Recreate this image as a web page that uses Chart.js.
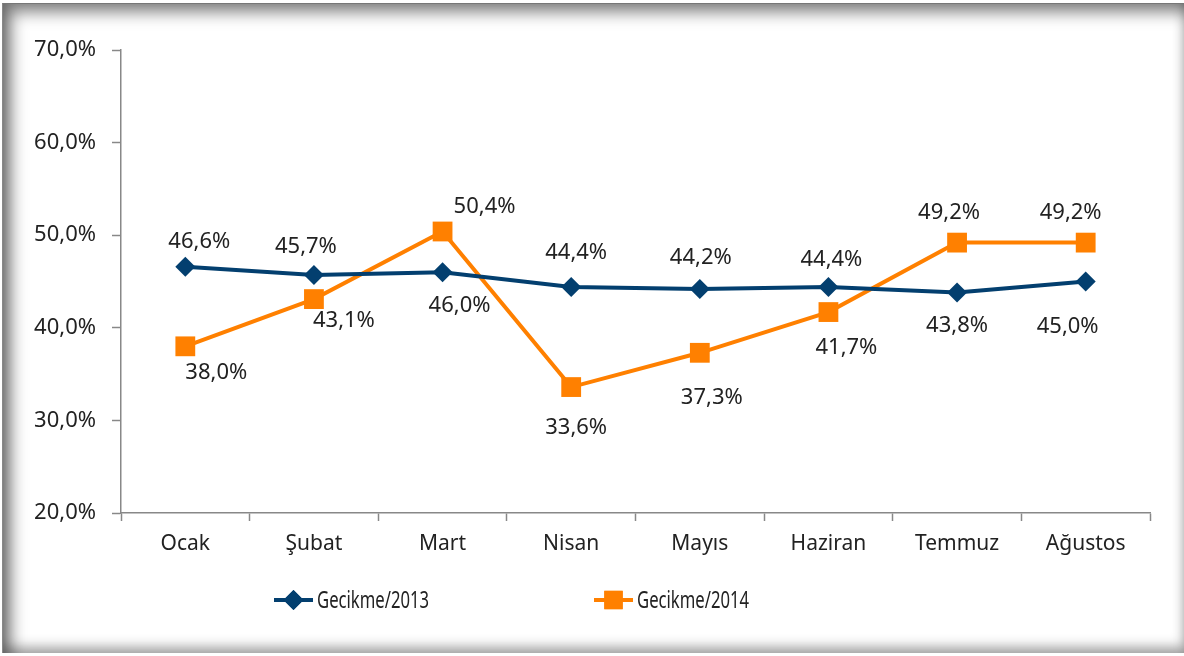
<!DOCTYPE html>
<html>
<head>
<meta charset="utf-8">
<script src="https://cdn.jsdelivr.net/npm/chart.js@4"></script>
<style>
  html, body { margin: 0; padding: 0; background: #fff; }
  #frame {
    position: absolute; left: 2px; top: 3px; width: 1182px; height: 650px;
    box-shadow: inset 8px 8px 16px rgba(0,0,0,0.5), inset 0 -7px 12px rgba(0,0,0,0.3);
    border-top: 1px solid #777; border-left: 1px solid #888; box-sizing: border-box;
  }
  #wrap { position: absolute; left: 0; top: 0; width: 1184px; height: 656px; }
</style>
</head>
<body>
<div id="frame"></div>
<div id="wrap"><canvas id="chart" width="1184" height="656"></canvas></div>
<script>
const months = ['Ocak', 'Şubat', 'Mart', 'Nisan', 'Mayıs', 'Haziran', 'Temmuz', 'Ağustos']
const gecikme2013 = [46.6, 45.7, 46.0, 44.4, 44.2, 44.4, 43.8, 45.0]
const gecikme2014 = [38.0, 43.1, 50.4, 33.6, 37.3, 41.7, 49.2, 49.2]
const yTicks = [20, 30, 40, 50, 60, 70]

const NAVY = '#033F6F'
const ORANGE = '#FF8000'
const FONT = '"Noto Sans", sans-serif'

const fmt = (v) => v.toFixed(1).replace('.', ',') + '%'

// label offsets from each point (px)
const labelOffsets = [
  [[14, -25], [-8, -28], [17, 33], [5, -34], [1, -31], [3, -27], [0, 33], [-18, 45]],
  [[31, 26], [30, 22], [42, -25], [5, 41], [12, 45], [18, 36], [-8, -30], [-15, -30]],
]

const valueLabels = {
  id: 'valueLabels',
  afterDatasetsDraw(chart) {
    const ctx = chart.ctx
    ctx.save()
    ctx.font = '22px ' + FONT
    ctx.fillStyle = '#222'
    ctx.textAlign = 'center'
    ctx.textBaseline = 'middle'
    chart.data.datasets.forEach((ds, i) => {
      chart.getDatasetMeta(i).data.forEach((pt, j) => {
        const off = labelOffsets[i][j]
        ctx.fillText(fmt(ds.data[j]), pt.x + off[0], pt.y + off[1])
      })
    })
    ctx.restore()
  },
}

const lineLegend = {
  id: 'lineLegend',
  afterDraw(chart) {
    const ctx = chart.ctx
    const items = [
      { x: 274, color: NAVY, style: 'rectRot', r: 10 },
      { x: 594, color: ORANGE, style: 'rect', r: 13 },
    ]
    const y = 600
    ctx.save()
    items.forEach((it, i) => {
      ctx.strokeStyle = it.color
      ctx.lineWidth = 4
      ctx.beginPath()
      ctx.moveTo(it.x, y)
      ctx.lineTo(it.x + 39, y)
      ctx.stroke()
      ctx.fillStyle = it.color
      Chart.helpers.drawPoint(ctx, { pointStyle: it.style, radius: it.r, borderWidth: 0 }, it.x + 19.5, y)
      ctx.fill()
      ctx.fillStyle = '#222'
      ctx.font = '24px ' + FONT
      ctx.textAlign = 'left'
      ctx.textBaseline = 'middle'
      ctx.fillText(chart.data.datasets[i].label, it.x + 43, y + 1, 112)
    })
    ctx.restore()
  },
}

new Chart(document.getElementById('chart'), {
  type: 'line',
  data: {
    labels: months,
    datasets: [
      {
        label: 'Gecikme/2013',
        data: gecikme2013,
        borderColor: NAVY,
        backgroundColor: NAVY,
        borderWidth: 4,
        pointStyle: 'rectRot',
        pointRadius: 10,
        pointBorderWidth: 0,
        tension: 0,
      },
      {
        label: 'Gecikme/2014',
        data: gecikme2014,
        borderColor: ORANGE,
        backgroundColor: ORANGE,
        borderWidth: 4,
        pointStyle: 'rect',
        pointRadius: 14,
        pointBorderWidth: 0,
        tension: 0,
      },
    ],
  },
  options: {
    responsive: false,
    animation: false,
    layout: { padding: { top: 50, right: 34, left: 0, bottom: 0 } },
    plugins: { legend: { display: false }, tooltip: { enabled: false } },
    scales: {
      x: {
        offset: true,
        grid: { offset: true, drawOnChartArea: false, color: '#888', tickLength: 8, tickWidth: 1.5 },
        border: { color: '#888', width: 1.5 },
        ticks: { font: { family: FONT, size: 21 }, color: '#222', padding: 10 },
        afterFit: (s) => { s.height = 143 },
      },
      y: {
        min: 20,
        max: 70,
        afterBuildTicks: (s) => { s.ticks = yTicks.map((v) => ({ value: v })) },
        grid: { drawOnChartArea: false, color: '#888', tickLength: 9, tickWidth: 1.5 },
        border: { color: '#888', width: 1.5 },
        ticks: { font: { family: FONT, size: 22 }, color: '#222', padding: 16, callback: (v) => fmt(v) },
        afterFit: (s) => { s.width = 121 },
      },
    },
  },
  plugins: [valueLabels, lineLegend],
})
</script>
</body>
</html>
